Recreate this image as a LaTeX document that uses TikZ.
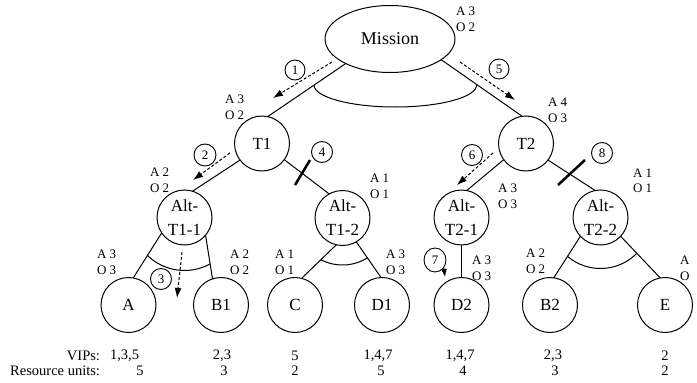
\documentclass[tikz,border=0pt]{standalone}
\usepackage{fontspec}
\setmainfont{Liberation Serif}
\usetikzlibrary{shapes.geometric,arrows.meta}
\begin{document}
\begin{tikzpicture}[x=1pt,y=1pt,
  every node/.style={inner sep=0pt,outer sep=0pt},
  treenode/.style={draw,line width=1pt,circle,minimum size=55pt,font=\fontsize{17}{24}\selectfont,align=center},
  aolab/.style={font=\fontsize{13}{15.5}\selectfont,anchor=west,align=left},
  numc/.style={draw,line width=0.9pt,circle,minimum size=20pt,font=\fontsize{13}{14}\selectfont},
  conn/.style={line width=1pt},
  dasharr/.style={line width=1pt,dash pattern=on 3pt off 2pt,-{Latex[length=10pt,width=7pt]}},
  cutmark/.style={line width=2.5pt},
  rowtxt/.style={font=\fontsize{14.5}{16}\selectfont}
]
\useasboundingbox (0,0) rectangle (697,-383);

% main nodes
\node[ellipse,draw,line width=1pt,minimum width=130pt,minimum height=67pt,font=\fontsize{18}{20}\selectfont] (M) at (390,-39) {Mission};
\node[treenode] (T1) at (262,-143.5) {T1};
\node[treenode] (T2) at (526,-143.5) {T2};
\node[treenode] (A11) at (184.5,-217.5) {Alt-\\T1-1};
\node[treenode] (A12) at (342.5,-218) {Alt-\\T1-2};
\node[treenode] (A21) at (461.5,-217.5) {Alt-\\T2-1};
\node[treenode] (A22) at (600.5,-217.5) {Alt-\\T2-2};
\node[treenode] (A) at (128.5,-305) {A};
\node[treenode] (B1) at (221,-305) {B1};
\node[treenode] (C) at (295,-305) {C};
\node[treenode] (D1) at (382,-305) {D1};
\node[treenode] (D2) at (461.5,-305) {D2};
\node[treenode] (B2) at (550,-305) {B2};
\node[treenode] (E) at (665,-305) {E};

% connectors
\draw[conn] (M.209) -- (T1.78);
\draw[conn] (M.338) -- (T2.98);
\draw[conn] (314,-85) arc[start angle=180,end angle=360,x radius=81.3,y radius=22];
\draw[conn] (T1.217) -- (A11.73);
\draw[conn] (T1.324) -- (A12.119);
\draw[conn] (T2.216) -- (A21.79);
\draw[conn] (T2.323) -- (A22.101);
\draw[conn] (A11.214) -- (A.80);
\draw[conn] (A11.320) -- (B1.108);
\draw[conn] (A11.center) ++(226:53) arc[start angle=226,end angle=299,radius=53];
\draw[conn] (A12.257) -- (C.76);
\draw[conn] (A12.300) -- (D1.92);
\draw[conn] (A12.center) ++(242.6:47) arc[start angle=242.6,end angle=302,radius=47];
\draw[conn] (A21.south) -- (D2.north);
\draw[conn] (A22.223) -- (B2.82);
\draw[conn] (A22.317) -- (E.100);
\draw[conn] (A22.center) ++(229.7:51) arc[start angle=229.7,end angle=315.4,radius=51];

% cut marks
\draw[cutmark] (295,-185) -- (310,-160);
\draw[cutmark] (558,-185) -- (585,-160);

% dashed arrows
\coordinate (d1s) at (332,-62); \coordinate (d1e) at (273,-98);
\coordinate (d5s) at (460,-62); \coordinate (d5e) at (515,-100);
\coordinate (d2s) at (230,-153); \coordinate (d2e) at (193,-180);
\coordinate (d6s) at (493,-153); \coordinate (d6e) at (457,-185);
\coordinate (d3s) at (182,-252); \coordinate (d3e) at (177,-298);
\draw[dasharr] (d1s) -- (d1e);
\draw[dasharr] (d5s) -- (d5e);
\draw[dasharr] (d2s) -- (d2e);
\draw[dasharr] (d6s) -- (d6e);
\draw[dasharr] (d3s) -- (d3e);

% circled numbers
\node[numc] (c1) at (295,-70) {1};
\node[numc,minimum size=22pt] (c2) at (205,-155) {2};
\node[numc,minimum size=21pt] (c3) at (161,-279) {3};
\node[numc,minimum size=21pt] (c4) at (322,-152) {4};
\node[numc] (c5) at (499,-69) {5};
\node[numc,minimum size=21pt] (c6) at (472,-155) {6};
\node[numc,ellipse,minimum width=22pt,minimum height=24pt] (c7) at (435,-260) {7};
\node[numc,minimum size=21pt] (c8) at (602,-153) {8};
\coordinate (t7) at (445,-277);
\draw[conn,-{Latex[length=8pt,width=6pt]}] (c7.-40) -- (t7);

% A/O labels
\node[aolab] (lM) at (456,-19.5) {A 3\\O 2};
\node[aolab] (lT1) at (225,-107.5) {A 3\\O 2};
\node[aolab] (lT2) at (548,-110.5) {A 4\\O 3};
\node[aolab] (lA11) at (150,-180.5) {A 2\\O 2};
\node[aolab] (lA12) at (370,-186.5) {A 1\\O 1};
\node[aolab] (lA21) at (498,-196.5) {A 3\\O 3};
\node[aolab] (lA22) at (633,-181) {A 1\\O 1};
\node[aolab] (lA) at (97,-262.5) {A 3\\O 3};
\node[aolab] (lB1) at (230,-262.5) {A 2\\O 2};
\node[aolab] (lC) at (275,-262.5) {A 1\\O 1};
\node[aolab] (lD1) at (386,-262.5) {A 3\\O 3};
\node[aolab] (lD2) at (472,-268.5) {A 3\\O 3};
\node[aolab] (lB2) at (526,-261.5) {A 2\\O 2};
\node[aolab] (lE) at (680,-268.5) {A\\O};

% bottom rows
\node[rowtxt,anchor=east] (vh) at (100,-356) {VIPs:};
\node[rowtxt,anchor=east] (rh) at (100,-371) {Resource units:};
\node[rowtxt] (v1) at (124.5,-356) {1,3,5};
\node[rowtxt] (v2) at (222,-356) {2,3};
\node[rowtxt] (v3) at (295,-356) {5};
\node[rowtxt] (v4) at (378,-356) {1,4,7};
\node[rowtxt] (v5) at (460,-356) {1,4,7};
\node[rowtxt] (v6) at (553,-356) {2,3};
\node[rowtxt] (v7) at (665,-356) {2};
\node[rowtxt] (r1) at (140,-371) {5};
\node[rowtxt] (r2) at (224,-371) {3};
\node[rowtxt] (r3) at (295,-371) {2};
\node[rowtxt] (r4) at (381,-371) {5};
\node[rowtxt] (r5) at (463,-371) {4};
\node[rowtxt] (r6) at (555,-371) {3};
\node[rowtxt] (r7) at (665,-371) {2};
\end{tikzpicture}
\end{document}
